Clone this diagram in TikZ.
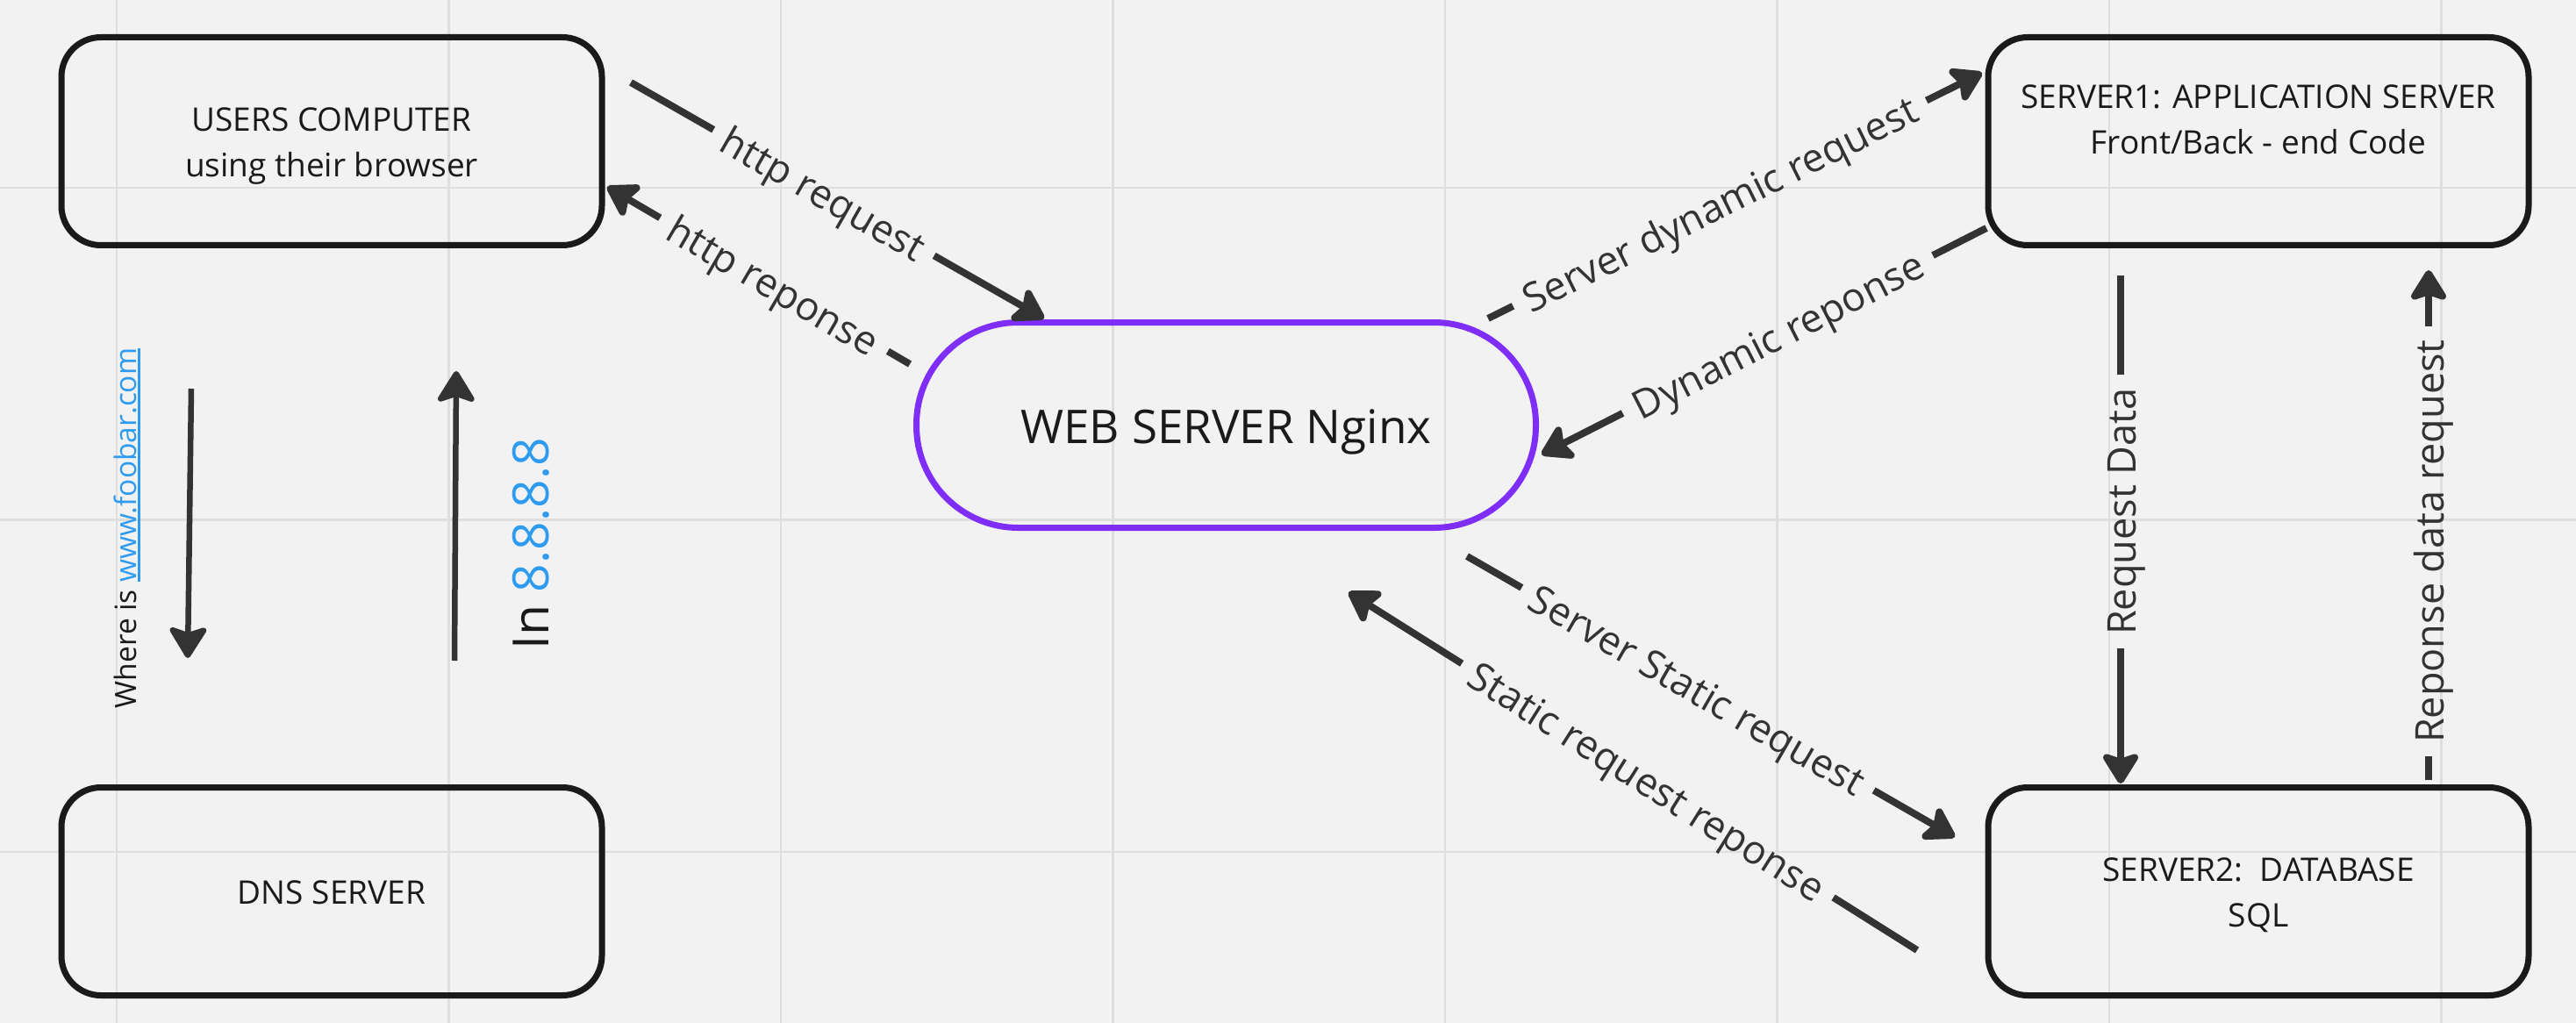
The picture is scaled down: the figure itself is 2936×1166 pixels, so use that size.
\documentclass[tikz,border=0pt]{standalone}
\usepackage{fontspec}
\setmainfont{Open Sans}
\usetikzlibrary{arrows.meta}
\definecolor{bg}{HTML}{F2F2F2}
\definecolor{gridc}{HTML}{DEDEDE}
\definecolor{ink}{HTML}{1A1A1A}
\definecolor{conn}{HTML}{333333}
\definecolor{purp}{HTML}{7F2EF7}
\definecolor{linkc}{HTML}{2E9BF0}
\newcommand\bst{\rule[-0.293em]{0pt}{1.362em}}
\newcommand\ulink[1]{\setbox0=\hbox{#1}\rlap{\rule[-4.5pt]{\wd0}{2.2pt}}\box0}
\begin{document}
\begin{tikzpicture}[x=1pt,y=-1pt,
  box/.style={draw=ink, line width=7pt, rounded corners=45pt, minimum width=616pt, minimum height=237pt, inner sep=0pt, align=center, text=ink, font=\fontsize{37pt}{52pt}\selectfont},
  web/.style={draw=purp, line width=7pt, rounded corners=116pt, minimum width=706pt, minimum height=234pt, inner sep=0pt, text=ink, font=\fontsize{53pt}{63pt}\selectfont},
  link/.style={draw=conn, line width=8pt},
  tipstyle/.style={-{Stealth[length=40pt,width=49pt,inset=8pt,round]}},
  linkarrow/.style={link, tipstyle},
  lbl/.style={text=conn, font=\fontsize{45pt}{54pt}\selectfont, inner xsep=15pt, inner ysep=0pt, text height=48.1pt, text depth=13.2pt},
  gridline/.style={draw=gridc, line width=2.5pt},
]
\fill[bg] (0,0) rectangle (2936,1166);
\useasboundingbox (0,0) rectangle (2936,1166);
\foreach \gx in {133,511.5,890,1268.5,1647,2025.5,2404,2782.5} \draw[gridline] (\gx,0) -- (\gx,1166);
\foreach \gy in {214,592.5,971} \draw[gridline] (0,\gy) -- (2936,\gy);

% boxes
\node[box] (users) at (378,161) {\bst USERS COMPUTER\\\bst using their browser};
\node[box] (dns) at (378,1016) {\bst DNS SERVER};
\node[box] (s1) at (2574,161) {\bst SERVER1: APPLICATION SERVER\\\bst Front/Back - end Code\\\bst};
\node[box] (s2) at (2574,1016) {\bst SERVER2:~~DATABASE\\\bst SQL};
\node[web] (web) at (1397.5,484.5) {\bst WEB SERVER Nginx};

% connector end points
\coordinate (hq1) at (719,94);    \coordinate (hq2) at (1190,363);
\coordinate (hr1) at (1037,415);  \coordinate (hr2) at (692,213);
\coordinate (dq1) at (1696,363);  \coordinate (dq2) at (2259,83);
\coordinate (dr1) at (2264,260);  \coordinate (dr2) at (1757,518);
\coordinate (sq1) at (1672,634);  \coordinate (sq2) at (2228,954);
\coordinate (sr1) at (2185,1083); \coordinate (sr2) at (1537,675);
\coordinate (rd1) at (2417,314);  \coordinate (rd2) at (2417,893);
\coordinate (pd1) at (2768,889);  \coordinate (pd2) at (2768,308);
\coordinate (wq1) at (218,443);   \coordinate (wq2) at (214,750);
\coordinate (ip1) at (518,753);   \coordinate (ip2) at (520,423);

% labelled connectors
\path (hq1) -- (hq2) node[lbl, sloped, pos=0.467] (lhq) {http request};
\draw[link] (hq1) -- (lhq);
\draw[linkarrow] (lhq) -- (hq2);

\path (hr1) -- (hr2) node[lbl, sloped, pos=0.449] (lhr) {http reponse};
\draw[link] (hr1) -- (lhr);
\draw[linkarrow] (lhr) -- (hr2);

\path (dq1) -- (dq2) node[lbl, sloped, pos=0.469] (ldq) {Server dynamic request};
\draw[link] (dq1) -- (ldq);
\draw[linkarrow] (ldq) -- (dq2);

\path (dr1) -- (dr2) node[lbl, sloped, pos=0.469] (ldr) {Dynamic reponse};
\draw[link] (dr1) -- (ldr);
\draw[linkarrow] (ldr) -- (dr2);

\path (sq1) -- (sq2) node[lbl, sloped, pos=0.473] (lsq) {Server Static request};
\draw[link] (sq1) -- (lsq);
\draw[linkarrow] (lsq) -- (sq2);

\path (sr1) -- (sr2) node[lbl, sloped, pos=0.474] (lsr) {Static request reponse};
\draw[link] (sr1) -- (lsr);
\draw[linkarrow] (lsr) -- (sr2);

\path (rd1) -- (rd2) node[lbl, rotate=90, pos=0.465] (lrd) {Request Data};
\draw[link] (rd1) -- (lrd);
\draw[linkarrow] (lrd) -- (rd2);

\path (pd1) -- (pd2) node[lbl, rotate=90, pos=0.468] (lpd) {Reponse data request};
\draw[link] (pd1) -- (lpd);
\draw[linkarrow] (lpd) -- (pd2);

% DNS arrows
\draw[link, line width=6.5pt, tipstyle] (wq1) -- (wq2);
\draw[link, line width=6.5pt, tipstyle] (ip1) -- (ip2);
\node[rotate=90, anchor=base, inner sep=0pt, text=ink, font=\fontsize{33.5pt}{40pt}\selectfont] (where) at (155,602) {Where is {\color{linkc}\ulink{www.foobar.com}}};
\node[rotate=90, anchor=base, inner sep=0pt, text=ink, font=\fontsize{57pt}{68pt}\selectfont] (ipaddr) at (625,620) {In {\color{linkc}8.8.8.8}};
\end{tikzpicture}
\end{document}
